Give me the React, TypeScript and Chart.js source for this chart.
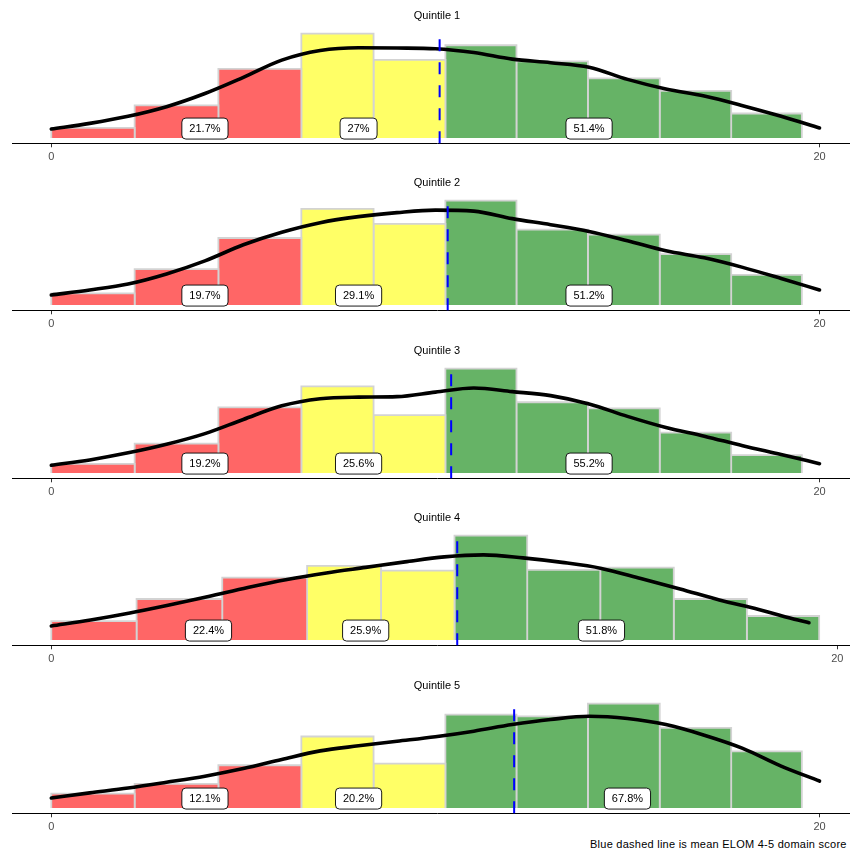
import React, { useEffect, useRef } from "react";
import { Chart, registerables } from "chart.js";

Chart.register(...registerables);

const FONT = "'Liberation Sans', Arial, Helvetica, sans-serif";

// ---- data ----
const binEdges = [0, 2.17, 4.35, 6.51, 8.39, 10.26, 12.11, 13.97, 15.84, 17.7, 19.54];
const binBand = [0, 0, 0, 1, 1, 2, 2, 2, 2, 2];
const bandColors = ["#FF6666", "#FFFF66", "#66B366"];
const xTicks = [0, 20];

const panelTitles = ["Quintile 1", "Quintile 2", "Quintile 3", "Quintile 4", "Quintile 5"];

const q1Bars = [10, 32.3, 68.3, 103.3, 77.3, 91.7, 75.7, 59, 46.7, 24.3];
const q2Bars = [11.7, 35.7, 66.7, 95.7, 80.7, 104, 75, 70, 50.7, 30];
const q3Bars = [9, 29, 65, 85.7, 57.3, 103.3, 70, 64, 40, 17.7];
const q4Bars = [19, 41, 62.3, 74, 69.3, 104.3, 70, 72.3, 41, 24];
const q5Bars = [14.3, 24, 42.3, 70.7, 44, 92.3, 90.7, 103.3, 79.3, 56];

const densX = [0, 1, 2, 3, 4, 5, 6, 7, 8, 9, 10, 11, 12, 13, 14, 15, 16, 17, 18, 19, 20];
const q4DensX = [0, 1, 2, 3, 4, 5, 6, 7, 8, 9, 10, 11, 12, 13, 14, 15, 16, 17, 18, 19, 19.28];
const q1DensY = [9, 14.5, 21.5, 31, 44, 60, 77, 86.5, 89.3, 89, 88.3, 84.5, 78, 74.5, 70, 58, 48.5, 41.5, 32, 21.5, 10];
const q2DensY = [10, 15, 21, 31, 44, 60, 72.5, 82, 88, 92, 94.5, 93.5, 86, 80, 73.3, 64, 54, 47, 37.5, 26.5, 15];
const q3DensY = [7.7, 13, 20, 28.5, 39, 53, 66.5, 73.5, 75, 75.5, 80, 84, 80.5, 76.5, 68.3, 56, 45, 36.5, 27, 18.3, 9.3];
const q4DensY = [14, 20, 27, 35, 43.5, 52.5, 60.5, 67, 72.5, 78, 83, 85, 82, 77.5, 71.5, 61.5, 51, 40, 30.5, 20, 17.3];
const q5DensY = [10, 15, 19.8, 25.5, 31.5, 39, 48, 56.5, 61.5, 66, 70.5, 76, 82.5, 87.5, 90.7, 88.5, 82.5, 72, 59, 41.5, 26.7];

const meanScores = [10.11, 10.32, 10.41, 10.33, 12.05];

const q1Labels = ["21.7%", "27%", "51.4%"];
const q2Labels = ["19.7%", "29.1%", "51.2%"];
const q3Labels = ["19.2%", "25.6%", "55.2%"];
const q4Labels = ["22.4%", "25.9%", "51.8%"];
const q5Labels = ["12.1%", "20.2%", "67.8%"];
const labelXDefault = [4, 8, 14];
const labelXQ5 = [4, 8, 15];

const xMinDefault = -1.023;
const xMaxDefault = 21.106;
const xMinQ4 = -1.0;
const xMaxQ4 = 20.63;

const captionText = "Blue dashed line is mean ELOM 4-5 domain score";

// ---- layout ----
const PANEL_TOPS = [0, 167, 335, 502, 670];
const CANVAS_W = 862;
const CANVAS_H = 167;

type Spec = {
  title: string;
  bars: number[];
  densX: number[];
  densY: number[];
  mean: number;
  labels: string[];
  labelX: number[];
  xMin: number;
  xMax: number;
};

const specs: Spec[] = [
  { title: panelTitles[0], bars: q1Bars, densX: densX, densY: q1DensY, mean: meanScores[0], labels: q1Labels, labelX: labelXDefault, xMin: xMinDefault, xMax: xMaxDefault },
  { title: panelTitles[1], bars: q2Bars, densX: densX, densY: q2DensY, mean: meanScores[1], labels: q2Labels, labelX: labelXDefault, xMin: xMinDefault, xMax: xMaxDefault },
  { title: panelTitles[2], bars: q3Bars, densX: densX, densY: q3DensY, mean: meanScores[2], labels: q3Labels, labelX: labelXDefault, xMin: xMinDefault, xMax: xMaxDefault },
  { title: panelTitles[3], bars: q4Bars, densX: q4DensX, densY: q4DensY, mean: meanScores[3], labels: q4Labels, labelX: labelXDefault, xMin: xMinQ4, xMax: xMaxQ4 },
  { title: panelTitles[4], bars: q5Bars, densX: densX, densY: q5DensY, mean: meanScores[4], labels: q5Labels, labelX: labelXQ5, xMin: xMinDefault, xMax: xMaxDefault },
];

function Panel({ spec, top }: { spec: Spec; top: number }) {
  const ref = useRef<HTMLCanvasElement>(null);

  useEffect(() => {
    if (!ref.current) return;
    const M = Math.max(...spec.bars, ...spec.densY);

    const datasets: any[] = [];
    datasets.push({
      data: spec.densX.map((x, i) => ({ x, y: spec.densY[i] })),
      borderColor: "#000000",
      borderWidth: 3.6,
      pointRadius: 0,
      fill: false,
      cubicInterpolationMode: "monotone",
      borderCapStyle: "round",
      borderJoinStyle: "round",
      order: 0,
    });
    spec.bars.forEach((h, i) => {
      const x0 = binEdges[i];
      const x1 = binEdges[i + 1];
      datasets.push({
        data: [
          { x: x0, y: 0 },
          { x: x0, y: h },
          { x: x1, y: h },
          { x: x1, y: 0 },
        ],
        borderColor: "#D3D3D3",
        borderWidth: 1.8,
        backgroundColor: bandColors[binBand[i]],
        fill: "origin",
        pointRadius: 0,
        tension: 0,
        borderJoinStyle: "miter",
        order: 1,
      });
    });

    const overlay = {
      id: "overlay",
      afterDatasetsDraw(chart: any) {
        const { ctx, chartArea } = chart;
        const xs = chart.scales.x;
        const ys = chart.scales.y;
        const base = ys.getPixelForValue(0);
        // mean line
        const mx = xs.getPixelForValue(spec.mean);
        ctx.save();
        ctx.beginPath();
        ctx.setLineDash([12, 11]);
        ctx.strokeStyle = "#0000FF";
        ctx.lineWidth = 2;
        ctx.moveTo(mx, chartArea.bottom);
        ctx.lineTo(mx, chartArea.top);
        ctx.stroke();
        ctx.restore();
        // labels
        ctx.save();
        ctx.font = `11px ${FONT}`;
        spec.labels.forEach((t, i) => {
          const px = xs.getPixelForValue(spec.labelX[i]);
          const py = base - 9.5;
          const tw = ctx.measureText(t).width;
          const w = tw + 15;
          const h = 21;
          ctx.beginPath();
          ctx.roundRect(px - w / 2, py - h / 2, w, h, 4);
          ctx.fillStyle = "#FFFFFF";
          ctx.fill();
          ctx.lineWidth = 0.9;
          ctx.strokeStyle = "#000000";
          ctx.stroke();
          ctx.fillStyle = "#000000";
          ctx.textAlign = "center";
          ctx.textBaseline = "middle";
          ctx.fillText(t, px, py + 0.5);
        });
        ctx.restore();
      },
    };

    const chart = new Chart(ref.current, {
      type: "line",
      data: { datasets },
      options: {
        animation: false,
        responsive: false,
        events: [],
        layout: { padding: { left: 12, right: 0, top: 0, bottom: 0.5 } },
        plugins: {
          legend: { display: false },
          tooltip: { enabled: false },
          title: {
            display: true,
            text: spec.title,
            color: "#000000",
            font: { family: FONT, size: 11, weight: "normal" },
            padding: { top: 9.7, bottom: 5.4 },
          },
        },
        scales: {
          x: {
            type: "linear",
            min: spec.xMin,
            max: spec.xMax,
            grid: {
              display: true,
              drawOnChartArea: false,
              drawTicks: true,
              tickLength: 4,
              color: "#333333",
              lineWidth: 1,
            },
            border: { display: true, color: "#000000", width: 1 },
            ticks: {
              color: "#4D4D4D",
              font: { family: FONT, size: 11 },
              padding: 3,
              autoSkip: false,
              maxRotation: 0,
            },
            afterBuildTicks: (s: any) => {
              s.ticks = xTicks.map((v) => ({ value: v }));
            },
          },
          y: {
            display: false,
            min: -0.05 * M,
            max: 1.05 * M,
          },
        },
      } as any,
      plugins: [overlay],
    });
    return () => chart.destroy();
  }, [spec]);

  return (
    <div style={{ position: "absolute", left: 0, top, width: CANVAS_W, height: CANVAS_H }}>
      <canvas ref={ref} width={CANVAS_W} height={CANVAS_H} style={{ width: CANVAS_W, height: CANVAS_H, display: "block" }} />
    </div>
  );
}

export default function App() {
  return (
    <div
      style={{
        position: "absolute",
        left: 0,
        top: 0,
        width: 850,
        height: 854,
        overflow: "hidden",
        background: "#FFFFFF",
      }}
    >
      {specs.map((s, i) => (
        <Panel key={i} spec={s} top={PANEL_TOPS[i]} />
      ))}
      <div
        style={{
          position: "absolute",
          left: 590,
          top: 838,
          fontFamily: FONT,
          fontSize: 11,
          lineHeight: "13px",
          color: "#000000",
          whiteSpace: "nowrap",
          letterSpacing: "0.25px",
        }}
      >
        {captionText}
      </div>
    </div>
  );
}
